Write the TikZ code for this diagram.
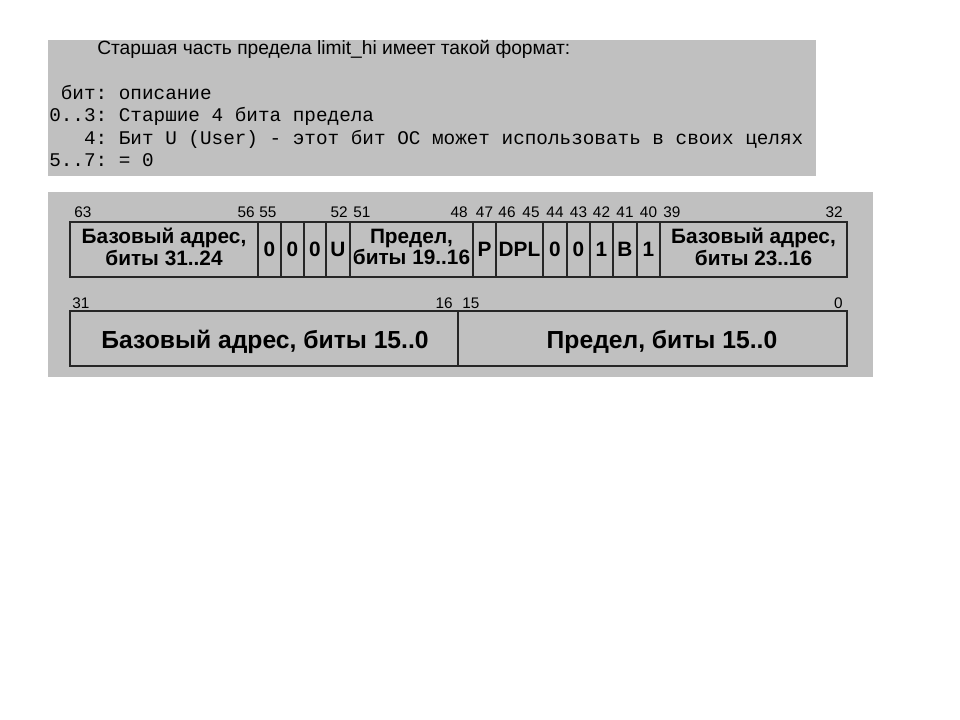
\documentclass[tikz,border=0pt]{standalone}
\usepackage{fontspec}
\setmainfont{Liberation Sans}
\newfontfamily\monofont{Liberation Mono}
\usetikzlibrary{positioning}
\definecolor{panelgray}{HTML}{C0C0C0}
\definecolor{framegray}{HTML}{262626}
\frenchspacing

\begin{document}
\begin{tikzpicture}[x=0.75pt, y=-0.75pt,
			panel/.style={fill=panelgray, draw=none},
			frame/.style={draw=framegray, line width=1.3pt},
			bitno/.style={font=\fontsize{11.5}{12}\selectfont, inner sep=0pt, anchor=base},
			field/.style={font=\bfseries\fontsize{15.6}{16.1}\selectfont, align=center, inner sep=0pt},
			bigfield/.style={font=\bfseries\fontsize{18.5}{20}\selectfont, inner sep=0pt, anchor=base},
			codeline/.style={font=\monofont\fontsize{14.5}{16}\selectfont, inner sep=0pt, anchor=base west}]
			\useasboundingbox (0,0) rectangle (960,720);
			% Hintergrund
			\fill[white] (0,0) rectangle (960,720);
			\fill[panel] (48,40) rectangle (816,176);
			\fill[panel] (48,192) rectangle (873,377);
			% Beschreibung
			\node[font=\fontsize{14.4}{16}\selectfont, inner sep=0pt, anchor=base west] (title) at (97,55) {Старшая часть предела limit\_hi имеет такой формат:};
			\node[codeline] (head) at (49,99.3) {\hphantom{0}бит: описание};
			\node[codeline] (lowbits) at (49,121.8) {0..3: Старшие 4 бита предела};
			\node[codeline] (userbit) at (49,144.3) {\hphantom{000}4: Бит U (User) - этот бит ОС может использовать в своих целях};
			\node[codeline] (zerobits) at (49,166.8) {5..7: = 0};
			% Obere Zeile: Bits 63..32
			\draw[frame] (70,222) rectangle (847,277);
			\foreach \x in {258,281,304,326,350,473,496,543,567,590,613,637,660}
				\draw[frame] (\x,222) -- (\x,277);
			\node[field] (basehi) at (164,247) {Базовый адрес,\\биты 31..24};
			\node[field] (limithi) at (411.5,247) {Предел,\\биты 19..16};
			\node[field] (basemid) at (753.5,247) {Базовый адрес,\\биты 23..16};
			\foreach \x/\t [count=\i] in {269.5/0, 292.5/0, 315/0, 338/U, 484.5/P, 519.5/DPL, 555/0, 578.5/0, 601.5/1, 625/B, 648.5/1}
				\node[field, anchor=base] (flag\i) at (\x,257) {\t};
			% Bitnummern oben
			\foreach \x/\n [count=\i] in {74/63, 259/55, 353/51, 663/39}
				\node[bitno, anchor=base west] (lnum\i) at (\x,218) {\n};
			\foreach \x/\n [count=\i] in {255/56, 348/52, 468/48, 843/32}
				\node[bitno, anchor=base east] (rnum\i) at (\x,218) {\n};
			\foreach \x/\n [count=\i] in {484.5/47, 507/46, 531/45, 555/44, 578.5/43, 601.5/42, 625/41, 648.5/40}
				\node[bitno] (cnum\i) at (\x,218) {\n};
			% Untere Zeile: Bits 31..0
			\draw[frame] (70,311) rectangle (847,366);
			\draw[frame] (458,311) -- (458,366);
			\node[bigfield] (baselo) at (265,348) {Базовый адрес, биты 15..0};
			\node[bigfield] (limitlo) at (662,348) {Предел, биты 15..0};
			% Bitnummern unten
			\node[bitno, anchor=base west] (num31) at (72,308) {31};
			\node[bitno, anchor=base east] (num16) at (453,308) {16};
			\node[bitno, anchor=base west] (num15) at (462,308) {15};
			\node[bitno, anchor=base east] (num0) at (843,308) {0};
		\end{tikzpicture}
\end{document}
